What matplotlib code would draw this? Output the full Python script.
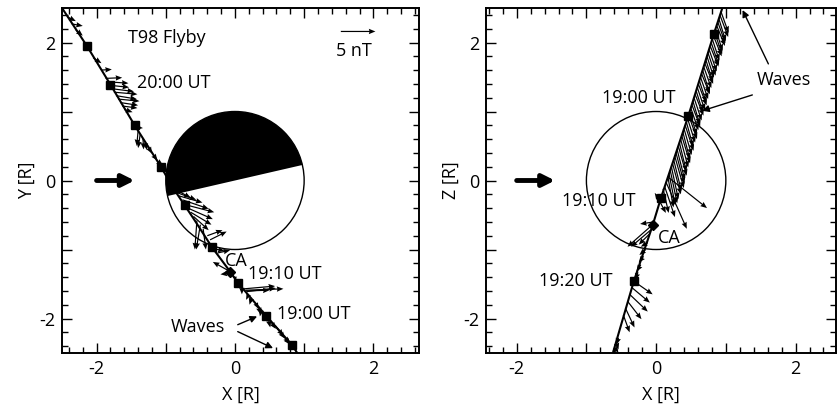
import matplotlib
matplotlib.use("Agg")
import matplotlib.pyplot as plt
from matplotlib.patches import Circle, Wedge
from matplotlib.ticker import MultipleLocator

plt.rcParams["font.family"] = ["Open Sans", "DejaVu Sans"]
plt.rcParams["font.size"] = 13

# ---------------- X-Y plane ----------------
# trajectory
xy_path_x = [-2.5, -2.14, -1.80, -1.45, -1.07, -0.90, -0.60, -0.33, -0.07, 0.04, 0.45, 0.83, 0.90]
xy_path_y = [2.5, 1.95, 1.39, 0.80, 0.20, -0.10, -0.55, -0.97, -1.32, -1.48, -1.96, -2.39, -2.50]
# 10-min marks
xy_mark_x = [-2.14, -1.80, -1.45, -1.07, -0.72, -0.33, 0.04, 0.45, 0.83]
xy_mark_y = [1.95, 1.39, 0.80, 0.20, -0.36, -0.97, -1.48, -1.96, -2.39]
xy_ca = (-0.07, -1.32)

# field vectors (nT): origin x, origin y, Bx, By
xy_vx = [-2.42, -2.36, -2.30, -2.05, -1.93,
         -1.87, -1.84, -1.81, -1.78, -1.75, -1.72, -1.69, -1.66, -1.63, -1.60,
         -1.43, -1.40, -1.37, -1.33, -1.30, -1.25, -1.18, -1.12,
         -0.92, -0.88, -0.82, -0.76, -0.72, -0.68, -0.64, -0.60,
         -0.55, -0.50, -0.46, -0.40, -0.36, -0.30, -0.25,
         -0.07, -0.05, 0.02,
         0.13, 0.15, 0.17, 0.16,
         0.06, 0.20, 0.24, 0.10,
         0.30, 0.34, 0.38, 0.42, 0.48, 0.52,
         0.58, 0.62, 0.66, 0.70, 0.74, 0.78]
xy_vy = [2.37, 2.27, 2.18, 1.78, 1.60,
         1.48, 1.43, 1.38, 1.33, 1.28, 1.23, 1.18, 1.13, 1.08, 1.03,
         0.77, 0.72, 0.67, 0.61, 0.56, 0.48, 0.37, 0.28,
         -0.10, -0.16, -0.22, -0.28, -0.35, -0.40, -0.46, -0.52,
         -0.58, -0.64, -0.70, -0.80, -0.86, -0.99, -1.05,
         -1.32, -1.34, -1.42,
         -1.57, -1.59, -1.61, -1.60,
         -1.50, -1.65, -1.70, -1.53,
         -1.78, -1.83, -1.88, -1.93, -2.00, -2.05,
         -2.10, -2.15, -2.20, -2.25, -2.30, -2.34]
xy_bx = [1.2, 1.6, 1.0, 1.2, 1.5,
         2.4, 3.0, 2.8, 3.2, 3.4, 3.0, 3.1, 2.6, 2.2, 1.2,
         1.0, -0.2, -0.3, 0.1, 0.3, 0.5, 0.6, 0.8,
         2.8, 3.2, 3.5, 3.8, 4.2, 3.6, 3.0, 2.2,
         -0.3, -0.6, 0.4, 2.2, 2.4, 1.5, 1.8,
         -2.5, -1.6, -0.6,
         4.5, 5.5, 4.2, 3.4,
         -0.3, -0.4, -0.3, 0.0,
         0.4, 0.3, -0.2, 0.5, 0.3, 0.7,
         1.2, 1.0, 1.3, 1.0, 1.2, 0.9]
xy_by = [-0.6, -0.3, -0.8, -0.8, 0.1,
         0.1, -0.2, -0.3, -0.4, -0.3, -0.5, -0.3, -0.4, -0.3, -0.4,
         -0.1, -2.2, -2.0, -1.6, -1.2, -0.9, -0.8, -0.6,
         -1.5, -1.2, -1.0, -1.3, -1.1, -1.6, -1.8, -2.0,
         -4.2, -3.6, -3.0, 0.8, 1.2, -0.3, 0.4,
         1.4, -0.2, 0.3,
         0.4, 0.2, 0.5, 0.1,
         -0.6, -0.8, -1.0, -1.2,
         -0.8, -1.1, -0.9, -1.2, -1.3, -1.0,
         -1.5, -1.4, -1.6, -1.3, -1.5, -1.2]

# ---------------- X-Z plane ----------------
xz_path_x = [-0.62, -0.32, -0.05, 0.07, 0.46, 0.83, 0.95]
xz_path_z = [-2.50, -1.46, -0.65, -0.25, 0.93, 2.13, 2.50]
xz_mark_x = [-0.32, 0.07, 0.46, 0.83]
xz_mark_z = [-1.46, -0.25, 0.93, 2.13]
xz_ca = (-0.05, -0.65)

# inbound wave train (dense band) + the rest of the pass
xz_vx = [0.929, 0.914, 0.898, 0.883, 0.867, 0.852, 0.837, 0.821, 0.806, 0.790,
         0.775, 0.759, 0.744, 0.729, 0.713, 0.698, 0.682, 0.667, 0.651, 0.636,
         0.620, 0.605, 0.590, 0.574, 0.559, 0.543, 0.528, 0.512, 0.497, 0.482,
         0.466, 0.450, 0.433, 0.417, 0.400, 0.384, 0.367, 0.351, 0.334, 0.318,
         0.301, 0.285, 0.268, 0.252, 0.235, 0.219, 0.202, 0.185, 0.169,
         0.17, 0.14, 0.10, 0.12, 0.05, 0.06,
         -0.03, -0.05, -0.08, -0.10,
         -0.12, -0.15, -0.18, -0.22, -0.26,
         -0.32, -0.35, -0.38, -0.41, -0.44, -0.47,
         -0.54, -0.57, -0.59, -0.60]
xz_vz = [2.45, 2.40, 2.35, 2.30, 2.25, 2.20, 2.15, 2.10, 2.05, 2.00,
         1.95, 1.90, 1.85, 1.80, 1.75, 1.70, 1.65, 1.60, 1.55, 1.50,
         1.45, 1.40, 1.35, 1.30, 1.25, 1.20, 1.15, 1.10, 1.05, 1.00,
         0.95, 0.90, 0.85, 0.80, 0.75, 0.70, 0.65, 0.60, 0.55, 0.50,
         0.45, 0.40, 0.35, 0.30, 0.25, 0.20, 0.15, 0.10, 0.05,
         0.05, -0.02, -0.12, -0.08, -0.30, -0.30,
         -0.60, -0.64, -0.72, -0.78,
         -0.90, -1.00, -1.10, -1.22, -1.33,
         -1.46, -1.55, -1.65, -1.75, -1.85, -1.95,
         -2.28, -2.35, -2.42, -2.45]
xz_bx = [1.1, 1.2, 1.0, 1.1, 1.2, 1.0, 1.1, 1.2, 1.0, 1.1,
         1.2, 1.1, 1.1, 1.0, 1.0, 1.2, 1.1, 1.0, 1.2, 1.1,
         1.0, 1.2, 1.1, 1.0, 1.2, 1.1, 1.0, 1.2, 1.1, 1.0,
         1.2, 1.1, 1.0, 1.2, 1.1, 1.0, 1.2, 1.1, 1.0, 1.2,
         1.1, 1.2, 1.3, 1.1, 1.2, 1.0, 1.0, 0.9, 0.8,
         5.6, 3.0, 0.8, 1.5, 0.9, -0.8,
         -2.0, -3.6, -2.8, -1.5,
         -1.0, -0.9, -0.7, -0.6, -0.4,
         2.7, 2.6, 2.6, 2.0, 1.3, 0.9,
         -0.3, 0.3, 0.5, 0.2]
xz_bz = [-3.1, -3.2, -3.3, -3.1, -3.0, -3.2, -3.2, -3.0, -3.1, -3.3,
         -3.0, -3.2, -3.3, -3.1, -3.2, -3.0, -3.1, -3.3, -3.0, -3.2,
         -3.2, -3.1, -3.3, -3.2, -3.1, -3.3, -3.4, -3.2, -3.2, -3.4,
         -3.5, -3.5, -3.6, -3.7, -3.8, -3.9, -4.0, -4.1, -4.2, -4.3,
         -4.4, -4.5, -4.6, -4.5, -4.5, -4.7, -4.8, -4.6, -4.4,
         -4.5, -6.8, -3.5, -4.5, -1.7, 1.2,
         -0.3, -3.2, -2.4, -1.5,
         -0.6, -0.8, -0.9, -1.0, -1.1,
         -1.9, -2.2, -2.5, -2.6, -2.8, -2.5,
         -1.0, -1.0, -0.8, -0.6]

quiver_kw = dict(angles="xy", scale_units="xy", scale=10, units="dots",
                 width=1.2, headwidth=4.5, headlength=5.5, headaxislength=5,
                 color="k", zorder=3)


def style_axes(ax, ylabel):
    ax.set_ylim(-2.5, 2.5)
    ax.set_xticks([-2, -1, 0, 1, 2])
    ax.set_xticklabels(["-2", "", "0", "", "2"])
    ax.set_yticks([-2, -1, 0, 1, 2])
    ax.set_yticklabels(["-2", "", "0", "", "2"])
    ax.xaxis.set_minor_locator(MultipleLocator(0.2))
    ax.yaxis.set_minor_locator(MultipleLocator(0.2))
    ax.tick_params(which="both", direction="in", top=True, right=True, width=1)
    ax.tick_params(which="major", length=7, pad=5)
    ax.tick_params(which="minor", length=4)
    for s in ax.spines.values():
        s.set_linewidth(1.4)
    ax.set_xlabel("X [R]", labelpad=6)
    ax.set_ylabel(ylabel, labelpad=2)


def flow_arrow(ax):
    ax.annotate("", xy=(-1.45, 0), xytext=(-2.0, 0),
                arrowprops=dict(arrowstyle="-|>", lw=3.5, color="k",
                                mutation_scale=18, shrinkA=0, shrinkB=0))


def pointer(ax, start, end):
    ax.annotate("", xy=end, xytext=start,
                arrowprops=dict(arrowstyle="-|>", lw=1, color="k",
                                mutation_scale=10, shrinkA=0, shrinkB=0))


fig = plt.figure(figsize=(8.38, 4.12), dpi=100)

# left panel
ax1 = fig.add_axes([62 / 838, 59 / 412, 357 / 838, 345 / 412])
ax1.set_xlim(-2.5, 2.66)
ax1.add_patch(Wedge((0, 0), 1, 13, 193, color="k", lw=0, zorder=1))
ax1.add_patch(Circle((0, 0), 1, fill=False, lw=1, color="k", zorder=1))
ax1.plot(xy_path_x, xy_path_y, color="k", lw=1.5, zorder=2)
ax1.plot(xy_mark_x, xy_mark_y, "s", color="k", ms=6, zorder=4)
ax1.plot(*xy_ca, "D", color="k", ms=5, zorder=4)
ax1.quiver(xy_vx, xy_vy, xy_bx, xy_by, **quiver_kw)
ax1.quiver([1.53], [2.16], [5], [0], **quiver_kw)
ax1.text(1.72, 1.87, "5 nT", ha="center", va="center")
ax1.text(-1.54, 2.06, "T98 Flyby", va="center")
ax1.text(-1.42, 1.41, "20:00 UT", va="center")
ax1.text(-0.15, -1.16, "CA", va="center")
ax1.text(0.19, -1.36, "19:10 UT", va="center")
ax1.text(0.61, -1.94, "19:00 UT", va="center")
ax1.text(-0.93, -2.12, "Waves", va="center")
pointer(ax1, (0.04, -2.09), (0.32, -1.97))
pointer(ax1, (0.04, -2.19), (0.55, -2.43))
flow_arrow(ax1)
style_axes(ax1, "Y [R]")

# right panel
ax2 = fig.add_axes([486 / 838, 59 / 412, 350 / 838, 345 / 412])
ax2.set_xlim(-2.44, 2.58)
ax2.add_patch(Circle((0, 0), 1, fill=False, lw=1, color="k", zorder=1))
ax2.plot(xz_path_x, xz_path_z, color="k", lw=1.5, zorder=2)
ax2.plot(xz_mark_x, xz_mark_z, "s", color="k", ms=6, zorder=4)
ax2.plot(*xz_ca, "D", color="k", ms=5, zorder=4)
ax2.quiver(xz_vx, xz_vz, xz_bx, xz_bz, **quiver_kw)
ax2.text(-0.78, 1.2, "19:00 UT", va="center")
ax2.text(1.45, 1.45, "Waves", va="center")
ax2.text(-1.35, -0.29, "19:10 UT", va="center")
ax2.text(0.02, -0.83, "CA", va="center")
ax2.text(-1.68, -1.46, "19:20 UT", va="center")
pointer(ax2, (1.61, 1.69), (1.24, 2.47))
pointer(ax2, (1.38, 1.24), (0.66, 1.01))
flow_arrow(ax2)
style_axes(ax2, "Z [R]")

fig.savefig("out.png", dpi=100)
